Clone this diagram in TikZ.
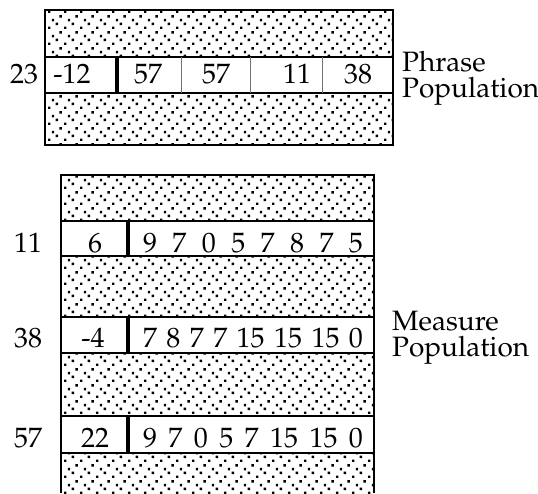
\documentclass[tikz,border=0pt]{standalone}
\usepackage[T1]{fontenc}
\usepackage{mathpazo}
\usetikzlibrary{patterns}

% sparse square dots for the unused parts of each individual
\pgfdeclarepatternformonly{popdots}{\pgfpointorigin}{\pgfpoint{16pt}{16pt}}{\pgfpoint{16pt}{16pt}}{%
  \pgfpathrectangle{\pgfpoint{0pt}{0pt}}{\pgfpoint{2.6pt}{2.6pt}}%
  \pgfpathrectangle{\pgfpoint{8pt}{4pt}}{\pgfpoint{2.6pt}{2.6pt}}%
  \pgfpathrectangle{\pgfpoint{4pt}{8pt}}{\pgfpoint{2.6pt}{2.6pt}}%
  \pgfpathrectangle{\pgfpoint{12pt}{12pt}}{\pgfpoint{2.6pt}{2.6pt}}%
  \pgfusepath{fill}}

\begin{document}
\begin{tikzpicture}[
  x=1pt, y=-1pt,
  font=\fontsize{28}{30}\selectfont,
  dotband/.style={pattern=popdots, pattern color=black},
  frame/.style={line width=1.8pt},
  cellsep/.style={draw=black!55, line width=0.8pt},
  keysep/.style={line width=4pt},
  val/.style={anchor=base, inner sep=0pt},
  caption/.style={anchor=base west, inner sep=0pt, align=left,
    font=\fontsize{28}{26}\selectfont},
]
\useasboundingbox (0,0) rectangle (538,493);

% Phrase population (top)
\fill[dotband] (45,10) rectangle (393,57);
\fill[dotband] (45,93) rectangle (393,145);
\draw[frame] (45,10) rectangle (393,145);
\draw[frame] (45,57) -- (393,57) (45,93) -- (393,93);
\foreach \x in {181,250,322}
  \draw[cellsep] (\x,57) -- (\x,93);
\draw[keysep] (117,57) -- (117,93);

\node[val] (pfit) at (24,83) {23};
\node[val] (pkey) at (72,83) {-12};
\node[val] (pa) at (148,83) {57};
\node[val] (pb) at (216,83) {57};
\node[val] (pc) at (297,83) {11};
\node[val] (pd) at (358,83) {38};

\node[caption] (phrase) at (402,97) {Phrase\\Population};

% Measure population (bottom)
\fill[dotband] (61,175) rectangle (374,221);
\fill[dotband] (61,256) rectangle (374,317);
\fill[dotband] (61,353) rectangle (374,416);
\fill[dotband] (61,453) rectangle (374,493);
\draw[frame] (61,493) -- (61,175) -- (374,175) -- (374,493);
\foreach \y in {221,256,317,353,416,453}
  \draw[frame] (61,\y) -- (374,\y);
\foreach \a/\b in {221/256,317/353,416/453}
  \draw[keysep] (128,\a) -- (128,\b);

\node[val] (mfitA) at (28,252) {11};
\node[val] (mkeyA) at (95,252) {6};
\node[val] (mseqA) at (253,252) {\makebox[220pt][s]{9 7 0 5 7 8 7 5}};

\node[val] (mfitB) at (28,347) {38};
\node[val] (mkeyB) at (93,347) {-4};
\node[val] (mseqB) at (253,347) {\makebox[220pt][s]{7 8 7 7 15 15 15 0}};

\node[val] (mfitC) at (28,447) {57};
\node[val] (mkeyC) at (95,447) {22};
\node[val] (mseqC) at (253,447) {\makebox[220pt][s]{9 7 0 5 7 15 15 0}};

\node[caption] (measure) at (392,356) {Measure\\Population};

\end{tikzpicture}
\end{document}
